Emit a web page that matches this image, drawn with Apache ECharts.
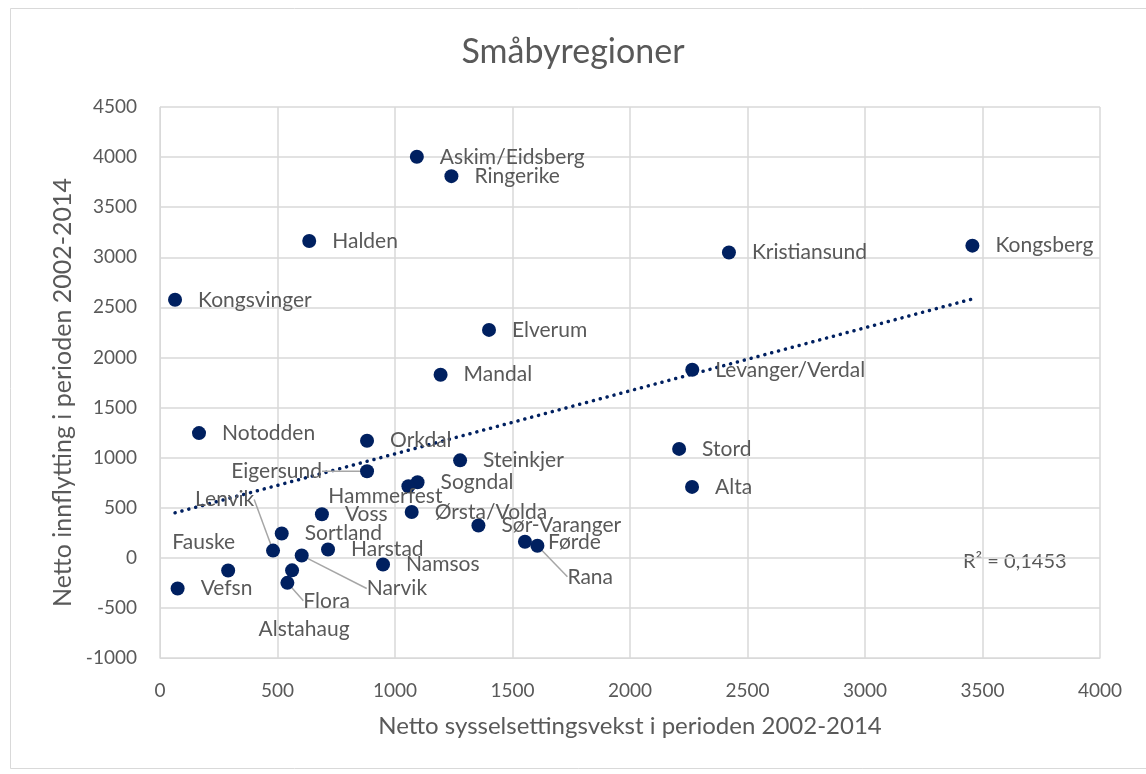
<!DOCTYPE html>
<html>
<head>
    <meta charset="utf-8">
    <title>Småbyregioner</title>
    <script src="https://cdn.jsdelivr.net/npm/echarts@6/dist/echarts.min.js"></script>
    <style>
        html, body { margin: 0; padding: 0; background: #fff; }
        #chart { width: 1146px; height: 774px; }
    </style>
</head>
<body>
<div id="chart"></div>
<script type="text/javascript">

    // regioner, sysselsettingsvekst (x) og innflytting (y)
    var regioner = ['Askim/Eidsberg', 'Ringerike', 'Halden', 'Kristiansund', 'Kongsberg',
        'Kongsvinger', 'Elverum', 'Mandal', 'Levanger/Verdal', 'Notodden', 'Orkdal',
        'Steinkjer', 'Eigersund', 'Sogndal', 'Hammerfest', 'Stord', 'Alta', 'Voss',
        'Ørsta/Volda', 'Sør-Varanger', 'Sortland', 'Lenvik', 'Fauske', 'Vefsn',
        'Harstad', 'Narvik', 'Namsos', 'Flora', 'Alstahaug', 'Førde', 'Rana'];
    var sysselsetting = [1093, 1240, 635, 2421, 3457,
        64, 1400, 1194, 2265, 166, 881,
        1277, 881, 1096, 1057, 2209, 2264, 689,
        1071, 1355, 518, 481, 290, 75,
        715, 603, 949, 542, 562, 1553, 1606];
    var innflytting = [4003, 3810, 3162, 3048, 3116,
        2576, 2275, 1828, 1877, 1245, 1169,
        973, 864, 754, 714, 1087, 708, 435,
        458, 322, 242, 72, -127, -306,
        83, 23, -67, -250, -125, 160, 120];

    // lineær trend (Excel), endepunkter lest av figuren
    var trendX = [64, 3457];
    var trendY = [449, 2584];
    var r2Tekst = 'R² = 0,1453';

    var xTicks = [0, 4000, 500];
    var yTicks = [-1000, 4500, 500];

    // flyttede etiketter: [dx, dy, anker (0 venstre, 1 midt, 2 høyre), ledelinje]
    var etikettFlytt = {
        'Eigersund': [-68, 0, 2, true],
        'Hammerfest': [-46, 10, 1, false],
        'Lenvik': [-101, -51, 0, true],
        'Fauske': [-16, -28, 2, false],
        'Narvik': [42, 33, 0, true],
        'Flora': [-7, 18, 0, true],
        'Alstahaug': [-11, 59, 1, false],
        'Rana': [7, 31, 0, true]
    };

    var tekst = '#595959';
    var grid = '#d9d9d9';
    var font = 'Lato';

    var punkter = regioner.map(function (navn, i) {
        var item = { name: navn, value: [sysselsetting[i], innflytting[i]] };
        var f = etikettFlytt[navn];
        item.labelLine = { show: !!(f && f[3]) };
        return item;
    });

    var myChart = echarts.init(document.getElementById('chart'));

    myChart.setOption({
        animation: false,
        backgroundColor: '#fff',
        textStyle: { fontFamily: font },
        title: {
            text: 'Småbyregioner',
            left: 'center',
            top: 30,
            textStyle: { color: tekst, fontSize: 34, fontWeight: 'normal', fontFamily: font }
        },
        graphic: [{
            type: 'rect',
            shape: { x: 10.5, y: 8.5, width: 1140, height: 760 },
            style: { fill: 'none', stroke: grid, lineWidth: 1 },
            silent: true
        }, {
            type: 'text',
            left: 963,
            top: 552,
            style: { text: r2Tekst, fill: tekst, font: '20px Lato' }
        }],
        grid: { left: 160, right: 46, top: 107, bottom: 116 },
        xAxis: {
            type: 'value',
            min: xTicks[0], max: xTicks[1], interval: xTicks[2],
            name: 'Netto sysselsettingsvekst i perioden 2002-2014',
            nameLocation: 'middle',
            nameGap: 56,
            nameTextStyle: { color: tekst, fontSize: 24, fontFamily: font },
            axisLine: { show: true, onZero: false, lineStyle: { color: grid } },
            axisTick: { show: false },
            axisLabel: { color: tekst, fontSize: 19, margin: 23, fontFamily: font,
                formatter: function (v) { return String(v); } },
            splitLine: { show: true, lineStyle: { color: grid, width: 1.5 } }
        },
        yAxis: {
            type: 'value',
            min: yTicks[0], max: yTicks[1], interval: yTicks[2],
            name: 'Netto innflytting i perioden 2002-2014',
            nameLocation: 'middle',
            nameGap: 82,
            nameTextStyle: { color: tekst, fontSize: 25, fontFamily: font, padding: [0, 20, 0, 0] },
            axisLine: { show: true, onZero: false, lineStyle: { color: grid } },
            axisTick: { show: false },
            axisLabel: { color: tekst, fontSize: 19, margin: 23, fontFamily: font,
                formatter: function (v) { return String(v); } },
            splitLine: { show: true, lineStyle: { color: grid, width: 1.5 } }
        },
        series: [{
            name: 'Trend',
            type: 'line',
            data: [[trendX[0], trendY[0]], [trendX[1], trendY[1]]],
            symbol: 'none',
            lineStyle: { color: '#002060', width: 3.5, type: [0.1, 7], cap: 'round' },
            z: 3
        }, {
            name: 'Regioner',
            type: 'scatter',
            data: punkter,
            symbolSize: 14,
            itemStyle: { color: '#002060', opacity: 1 },
            label: {
                show: true,
                position: 'right',
                distance: 16,
                formatter: '{b}',
                color: tekst,
                fontSize: 21,
                fontFamily: font
            },
            labelLine: {
                show: false,
                lineStyle: { color: '#a6a6a6', width: 1.5 }
            },
            labelLayout: function (params) {
                var f = etikettFlytt[regioner[params.dataIndex]];
                if (!f) return {};
                return { dx: f[0] - f[2] * params.labelRect.width / 2, dy: f[1] };
            },
            z: 4
        }]
    });
</script>
</body>
</html>
